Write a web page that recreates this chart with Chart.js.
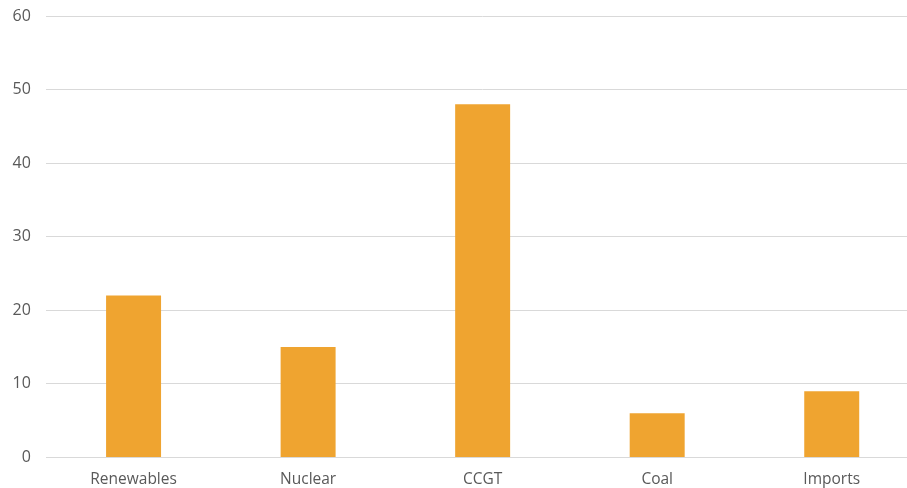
<!DOCTYPE html>
<html>
<head>
<meta charset="utf-8">
<script src="https://cdn.jsdelivr.net/npm/chart.js@4"></script>
<style>
    html, body { margin: 0; padding: 0; background: #fff; overflow: hidden; }
    #wrap { width: 919px; height: 511px; position: relative; top: -9px; }
</style>
</head>
<body>
<div id="wrap"><canvas id="barChart"></canvas></div>
<script>
const categories = ["Renewables", "Nuclear", "CCGT", "Coal", "Imports"];
const values = [22, 15, 48, 6, 9];
const yTicks = [0, 10, 20, 30, 40, 50, 60];

const barChart = document.querySelector("#barChart").getContext("2d");
const objBarChart = new Chart(barChart, {
    type: "bar",
    data: {
        labels: categories,
        datasets: [
            {
                data: values,
                backgroundColor: "rgb(239, 164, 48)",
                borderWidth: 0,
                categoryPercentage: 1,
                barPercentage: 0.315,
            },
        ],
    },
    options: {
        responsive: true,
        maintainAspectRatio: false,
        animation: false,
        layout: { padding: { top: 0, left: -3, right: 0, bottom: 0 } },
        plugins: {
            legend: { display: false },
            tooltip: { enabled: false },
        },
        scales: {
            x: {
                grid: { display: false, drawTicks: false },
                border: { color: "#d9d9d9", width: 1 },
                ticks: {
                    color: "#595959",
                    font: { family: "Open Sans", size: 15.5 },
                    padding: 13,
                },
            },
            y: {
                min: 0,
                max: 60,
                afterBuildTicks: (axis) => {
                    axis.ticks = yTicks.map((v) => ({ value: v }));
                },
                grid: { color: "#d9d9d9", drawTicks: false },
                border: { display: false },
                ticks: {
                    color: "#595959",
                    font: { family: "Open Sans", size: 16 },
                    padding: 15.5,
                },
            },
        },
    },
});
</script>
</body>
</html>
